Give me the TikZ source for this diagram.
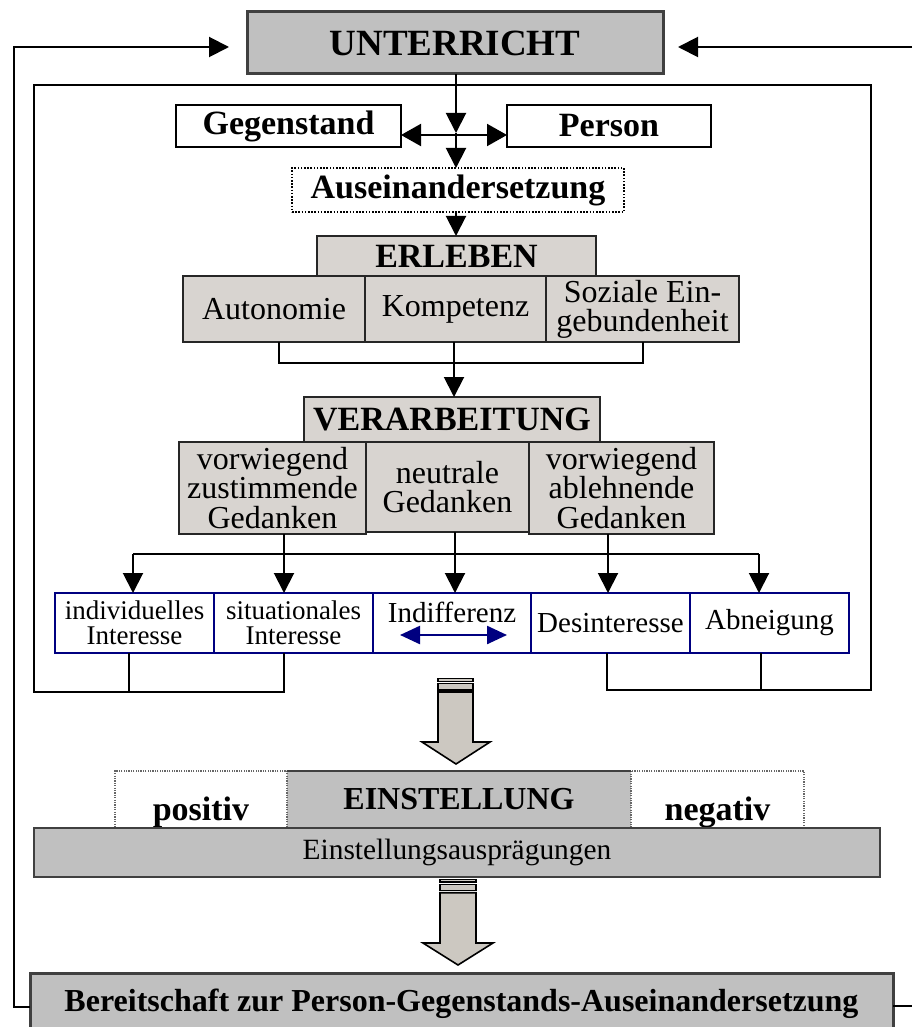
\documentclass[tikz,border=0pt]{standalone}
\usepackage{fontspec}
\setmainfont{Liberation Serif}
\usetikzlibrary{arrows.meta,calc}
\definecolor{boxgray}{HTML}{C0C0C0}
\definecolor{warmgray}{HTML}{D8D4D0}
\definecolor{arrowgray}{HTML}{CCC8C1}
\definecolor{darkedge}{HTML}{404040}
\definecolor{navyedge}{HTML}{000080}
\begin{document}
\begin{tikzpicture}[x=0.5pt,y=-0.5pt,
  every node/.style={inner sep=0pt, outer sep=0pt},
  grayb/.style={draw=darkedge, fill=boxgray, line width=1.5pt},
  warmb/.style={draw=black!85, fill=warmgray, line width=1pt, align=center, font=\fontsize{16}{14.6}\selectfont},
  warmhead/.style={draw=black!85, fill=warmgray, line width=1pt, font=\bfseries\fontsize{17}{17}\selectfont},
  whiteb/.style={draw=black, line width=1.2pt, fill=white, font=\bfseries\fontsize{17}{17}\selectfont},
  blueb/.style={draw=navyedge, line width=1pt, fill=white, align=center},
  conn/.style={line width=1pt, black},
  arr/.style={conn, -{Triangle[length=10pt,width=10pt]}},
  dblarr/.style={conn, {Triangle[length=10pt,width=11pt]}-{Triangle[length=10pt,width=11pt]}},
  hollow/.style={draw=black, fill=arrowgray, line width=0.8pt},
  dotbox/.style={draw=black, line width=0.9pt, dash pattern=on 0.8pt off 0.8pt},
  lightdot/.style={draw=black!60, line width=0.6pt, dash pattern=on 0.6pt off 0.6pt},
]
\useasboundingbox (0,0) rectangle (912,1027);

% ---------- nodes ----------
\node[grayb, minimum width=208pt, minimum height=31pt, font=\bfseries\fontsize{18.5}{18.5}\selectfont] (unt) at (455,43) {UNTERRICHT};
\node[whiteb, minimum width=112.5pt, minimum height=21pt] (geg) at (288.5,126) {Gegenstand};
\node[whiteb, minimum width=102pt, minimum height=21pt] (per) at (609,126) {Person};
\node[dotbox, minimum width=166pt, minimum height=22pt, font=\bfseries\fontsize{17}{17}\selectfont] (aus) at (458,190) {Auseinandersetzung};

\node[warmhead, minimum width=139.5pt, minimum height=20pt] (erl) at (456.5,256) {ERLEBEN};
\node[warmb, minimum width=91pt, minimum height=33pt] (auto) at (274,309) {Autonomie};
\node[warmb, minimum width=90.5pt, minimum height=33pt] (komp) at (455.5,309) {Kompetenz};
\node[warmb, minimum width=96.5pt, minimum height=33pt] (soz) at (642.5,309) {Soziale Ein-\\gebundenheit};

\node[warmhead, minimum width=148pt, minimum height=22.5pt] (verarb) at (452,419.5) {VERARBEITUNG};
\node[warmb, minimum width=93.5pt, minimum height=46pt] (zust) at (272.5,488) {vorwiegend\\zustimmende\\Gedanken};
\node[warmb, minimum width=81.5pt, minimum height=45pt] (neut) at (447.5,487) {neutrale\\Gedanken};
\node[warmb, minimum width=92.5pt, minimum height=46pt] (abl) at (621.5,488) {vorwiegend\\ablehnende\\Gedanken};

\node[blueb, minimum width=79.5pt, minimum height=30pt, font=\fontsize{13.5}{12.3}\selectfont] (ind) at (134.5,623) {individuelles\\Interesse};
\node[blueb, minimum width=79.5pt, minimum height=30pt, font=\fontsize{13.5}{12.3}\selectfont] (sit) at (293.5,623) {situationales\\Interesse};
\node[blueb, minimum width=79pt, minimum height=30pt, font=\fontsize{14.5}{14.5}\selectfont] (indiff) at (452,623) {\raisebox{11pt}{Indifferenz}};
\node[blueb, minimum width=79.5pt, minimum height=30pt, font=\fontsize{14.5}{14.5}\selectfont] (des) at (610.5,623) {Desinteresse};
\node[blueb, minimum width=79.5pt, minimum height=30pt, font=\fontsize{14.5}{14.5}\selectfont] (abn) at (769.5,623) {Abneigung};

\node[fill=boxgray, minimum width=172pt, minimum height=28.5pt, font=\bfseries\fontsize{16}{16}\selectfont] (ein) at (459,799.5) {EINSTELLUNG};
\node[lightdot, minimum width=86pt, minimum height=28.5pt, font=\bfseries\fontsize{17}{17}\selectfont] (pos) at (201,799.5) {\raisebox{-10.25pt}[0pt][0pt]{positiv}};
\node[lightdot, minimum width=86.5pt, minimum height=28.5pt, font=\bfseries\fontsize{17}{17}\selectfont] (neg) at (717.5,799.5) {\raisebox{-10.25pt}[0pt][0pt]{negativ}};
\draw[darkedge, line width=1pt] (ein.north west) -- (ein.north east);
\node[draw=darkedge, fill=boxgray, line width=1pt, minimum width=423pt, minimum height=24.5pt, font=\fontsize{14.7}{14.7}\selectfont] (auspr) at (457,852.5) {Einstellungsausprägungen};

\node[grayb, minimum width=431.5pt, minimum height=31pt, font=\bfseries\fontsize{16}{16}\selectfont] (bereit) at (461.5,1004) {Bereitschaft zur Person-Gegenstands-Auseinandersetzung};

% ---------- coordinates ----------
\coordinate (L1) at (14,1007);
\coordinate (L2) at (14,47);
\coordinate (L3) at (229,47);
\coordinate (R1) at (912,47);
\coordinate (R2) at (678,47);
\coordinate (R3) at (912,1006);
\coordinate (TL) at (34,85);
\coordinate (TR) at (871,85);
\coordinate (BL) at (34,692);
\coordinate (BR) at (871,690);
\coordinate (i1) at (129,692);
\coordinate (s1) at (284,692);
\coordinate (d1) at (607,690);
\coordinate (a1) at (761,690);
\coordinate (c0) at (456,133);
\coordinate (c1) at (456,135);
\coordinate (b1) at (279,363);
\coordinate (b2) at (643,363);
\coordinate (b3) at (454,363);
\coordinate (h1) at (133,554);
\coordinate (h2) at (759,554);
\coordinate (z1) at (284,554);
\coordinate (n1) at (455,554);
\coordinate (r1) at (608,554);

% ---------- outer loops ----------
\draw[arr] (L1 -| bereit.west) -- (L1) -- (L2) -- (L3);
\draw[arr] (R1) -- (R2);
\draw[conn] (R3 -| bereit.east) -- (R3);

% ---------- inner loop ----------
\draw[conn] (s1 |- sit.south) -- (s1) -- (BL) -- (TL) -- (TR) -- (BR) -- (d1) -- (d1 |- des.south);
\draw[conn] (i1 |- ind.south) -- (i1);
\draw[conn] (a1 |- abn.south) -- (a1);

% ---------- top arrows ----------
\draw[arr] (c0 |- unt.south) -- (c0);
\draw[arr] (c0) -- (c0 |- aus.north);
\draw[dblarr] (c1 -| geg.east) -- (c1 -| per.west);
\draw[arr] (c0 |- aus.south) -- (c0 |- erl.north);

% ---------- Erleben bracket ----------
\draw[conn] (b1 |- auto.south) -- (b1) -- (b2) -- (b2 |- soz.south);
\draw[conn] (b3 |- komp.south) -- (b3);
\draw[arr] (b3) -- (b3 |- verarb.north);

% ---------- Verarbeitung to interest row ----------
\draw[conn] (h1) -- (h2);
\draw[arr] (h1) -- (h1 |- ind.north);
\draw[arr] (h2) -- (h2 |- abn.north);
\draw[arr] (z1 |- zust.south) -- (z1 |- sit.north);
\draw[arr] (n1 |- neut.south) -- (n1 |- indiff.north);
\draw[arr] (r1 |- abl.south) -- (r1 |- des.north);

% Indifferenz double arrow
\draw[navyedge, line width=1.2pt, {Triangle[length=10pt,width=9pt]}-{Triangle[length=10pt,width=9pt]}]
  ($(indiff.center)+(-52,12)$) -- ($(indiff.center)+(55,12)$);

% ---------- hollow arrows ----------
\draw[hollow] (438,678.5) rectangle (473,681.5);
\draw[hollow] (438,683.5) rectangle (473,690);
\draw[hollow] (438,692) -- (473,692) -- (473,742) -- (490,742) -- (456,764) -- (422,742) -- (438,742) -- cycle;

\draw[hollow] (440,879.5) rectangle (476,882);
\draw[hollow] (440,884.5) rectangle (476,890.5);
\draw[hollow] (440,892.7) -- (476,892.7) -- (476,943) -- (493,943) -- (458,965) -- (423,943) -- (440,943) -- cycle;
\end{tikzpicture}
\end{document}
